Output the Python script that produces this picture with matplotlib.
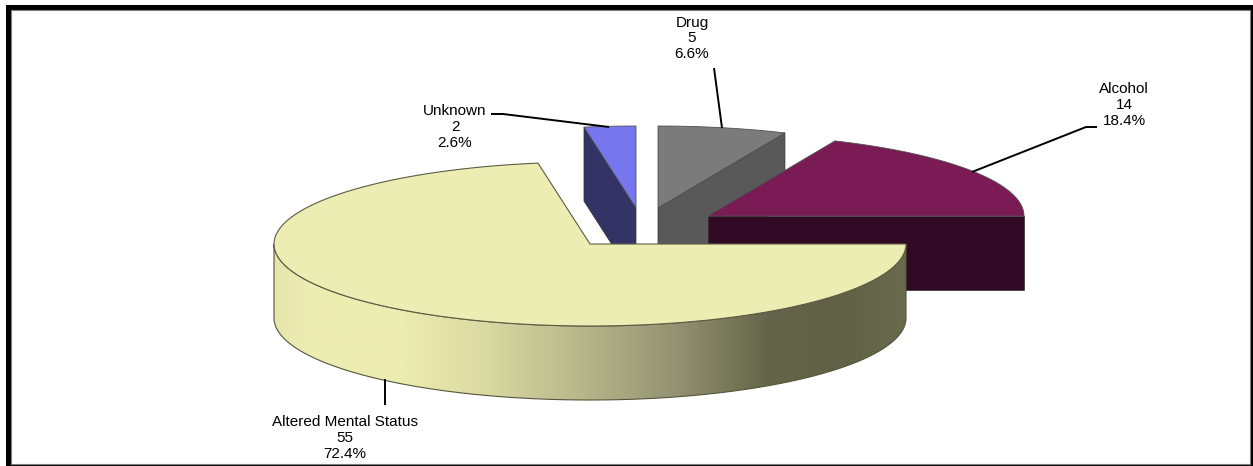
import numpy as np
import matplotlib.pyplot as plt
from matplotlib.patches import Polygon, Rectangle
from matplotlib.colors import LinearSegmentedColormap

plt.rcParams['font.family'] = ['Liberation Sans', 'DejaVu Sans']

# Данные диаграммы
categories = ['Altered Mental Status', 'Unknown', 'Drug', 'Alcohol']
counts = [55, 2, 5, 14]
percents = ['72.4%', '2.6%', '6.6%', '18.4%']

# Геометрия в пикселях картинки
W, H = 1253, 466
RX, RY, DEPTH = 316, 82, 74
apexes = [(590, 244), (636, 208), (658, 208), (708, 216)]
top_colors = ['#ecedb2', '#7676ee', '#7b7b7b', '#7a1b56']
side_colors = [None, '#333366', '#595959', '#300a24']
label_pos = [(345, 438), (455, 127), (692, 38.5), (1124, 105)]
leaders = [
    [(385, 379), (385, 405)],
    [(491, 114), (503, 114), (609, 127)],
    [(714, 68), (722, 128)],
    [(1097, 127), (1086, 127), (972, 172)],
]

fig = plt.figure(figsize=(W / 100, H / 100), dpi=100)
ax = fig.add_axes([0, 0, 1, 1])

# Рамка
ax.add_patch(Rectangle((6, 5), W - 6, H - 5, fc='black', ec='none', zorder=0))
ax.add_patch(Rectangle((10.5, 10), W - 3 - 10.5, H - 2 - 10, fc='white', ec='#808080', lw=0.8, zorder=0.5))


def arc(center, a0, a1, dy=0, n=200):
    t = np.radians(np.linspace(a0, a1, n))
    return np.column_stack([center[0] + RX * np.cos(t), center[1] + dy - RY * np.sin(t)])


# Углы секторов, идем по часовой стрелке от востока
fractions = np.array(counts) / sum(counts)
ends = 360 - np.cumsum(fractions) * 360
starts = np.concatenate([[360], ends[:-1]])

# Задняя часть: сначала Unknown и Drug, поверх них Alcohol
for i in [1, 2, 3]:
    c = apexes[i]
    # Виден срез от центра к краю дуги
    cut = starts[i] if i == 1 else ends[i]
    p = arc(c, cut, cut, n=1)[0]
    side = [c, p, (p[0], p[1] + DEPTH), (c[0], c[1] + DEPTH)]
    ax.add_patch(Polygon(side, fc=side_colors[i], ec='#303030', lw=0.5, zorder=i))
    top = np.vstack([[c], arc(c, ends[i], starts[i])])
    ax.add_patch(Polygon(top, fc=top_colors[i], ec='#505050', lw=0.6, zorder=i + 0.5))

# Altered Mental Status: боковая стенка с градиентом
c = apexes[0]
wall = np.vstack([arc(c, 180, 360), arc(c, 360, 180, dy=DEPTH)])
wall_patch = Polygon(wall, fc='none', ec='#55553c', lw=0.8, zorder=5)
ax.add_patch(wall_patch)
cmap = LinearSegmentedColormap.from_list('wall', [
    (0.0, '#e6e6ac'), (0.05, '#ecedb2'), (0.2, '#ecedb0'), (0.32, '#dcdca4'),
    (0.46, '#bdbd8f'), (0.64, '#929272'), (0.72, '#78785a'), (0.78, '#65654b'),
    (0.9, '#616147'), (1.0, '#6a6a4e')])
grad = np.linspace(0, 1, 512).reshape(1, -1)
im = ax.imshow(grad, cmap=cmap, extent=(c[0] - RX, c[0] + RX, c[1] + RY + DEPTH, c[1]),
               aspect='auto', zorder=4.9)
im.set_clip_path(wall_patch)

top = np.vstack([[c], arc(c, ends[0], starts[0])])
ax.add_patch(Polygon(top, fc=top_colors[0], ec='#5c5c44', lw=0.8, zorder=6))

# Подписи и выноски
for name, n, pct, (x, y), line in zip(categories, counts, percents, label_pos, leaders):
    ax.text(x, y, f'{name}\n{n}\n{pct}', ha='center', va='center', fontsize=11,
            linespacing=1.17, color='black', zorder=7)
    xs, ys = zip(*line)
    ax.plot(xs, ys, color='black', lw=1.4, zorder=7, solid_capstyle='butt')

ax.set_xlim(0, W)
ax.set_ylim(H, 0)
ax.axis('off')

fig.savefig('out.png', dpi=100)
